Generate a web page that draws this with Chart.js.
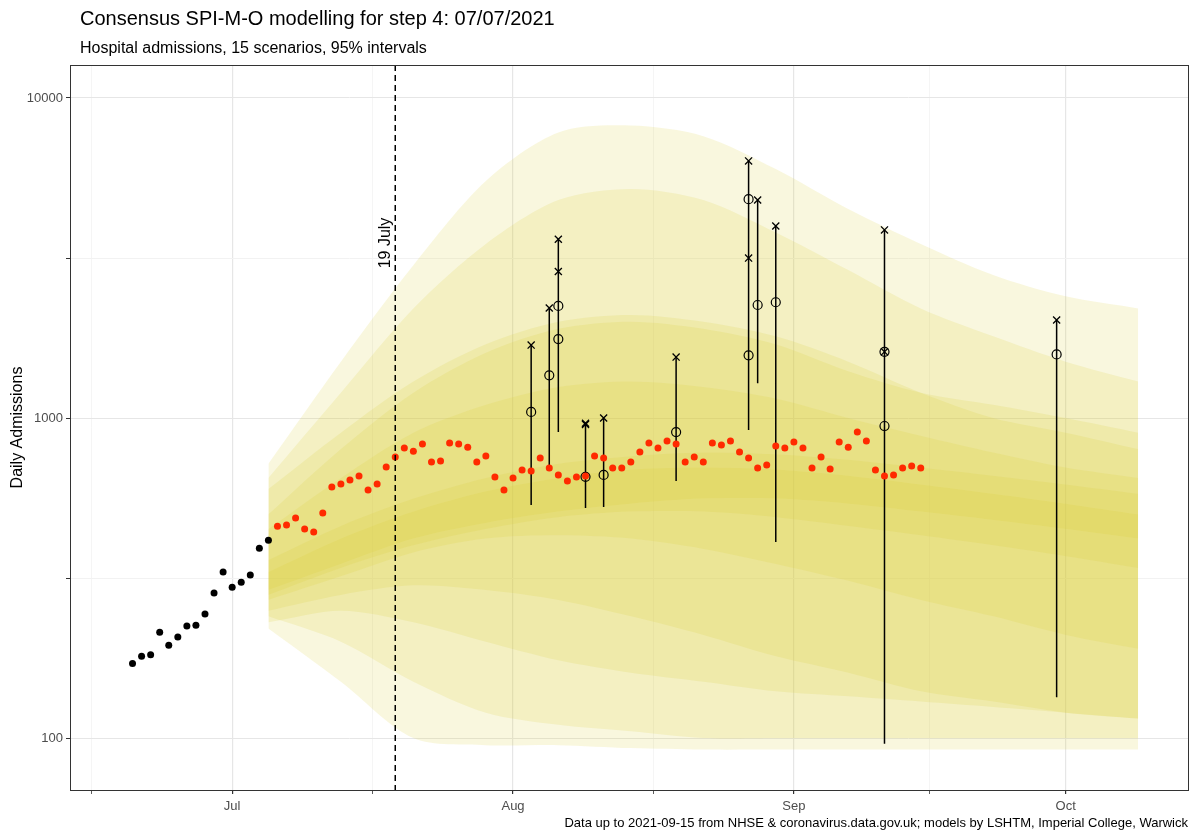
<!DOCTYPE html>
<html><head><meta charset="utf-8">
<script src="https://cdn.jsdelivr.net/npm/chart.js@4"></script>
<style>html,body{margin:0;background:#fff}#wrap{width:1200px;height:840px}</style>
</head><body><div id="wrap"><canvas id="c" width="1200" height="840"></canvas></div>
<script>
// x values are days since 1 July 2021
const monthTicks = [0, 31, 62, 92];
const monthLabels = ['Jul', 'Aug', 'Sep', 'Oct'];
const minorXTicks = [-15.5, 15.5, 46.5, 77];
const yMajor = [100, 1000, 10000];
const yMinor = [316.2, 3162];
const blackStart = -11;
const blackVals = [171,180,182,214,195,207,224,225,244,284,330,296,307,323,392,415];
const redStart = 5;
const redVals = [459,463,487,450,440,505,609,622,640,659,596,622,703,755,806,788,829,729,734,835,829,811,729,761,654,596,649,688,683,750,698,664,636,654,659,761,750,698,698,729,783,835,806,847,829,729,755,729,835,824,847,783,750,698,713,818,806,841,806,698,755,693,841,811,904,847,688,659,664,698,708,698];
// error bars: day, low, high, circles, crosses
const barDays = [33, 35, 36, 39, 41, 49, 57, 58, 60, 72, 91];
const barLow  = [535, 713, 904, 523, 527, 636, 917, 1285, 410, 96, 134];
const barHigh = [1690, 2207, 3620, 963, 1000, 1550, 6360, 4800, 3980, 3870, 2025];
const barCircles = [[1045],[1360],[1765,2240],[655],[664],[904],[1570,4830],[2255],[2300],[944,1610],[1580]];
const barCrosses = [[1690],[2207],[2870,3620],[963,955],[1000],[1550],[3160,6360],[4800],[3980],[1610,3870],[2025]];
// scenario bands
const bandDays = [4,12,20,28,36,44,52,60,68,76,84,92,100];
const bandLow = [
 [220,150,100,95,95,93,92,92,92,92,92,92,92],
 [240,200,150,120,110,105,100,100,100,100,100,100,100],
 [230,250,230,200,175,160,150,140,135,130,125,120,115],
 [250,280,300,290,270,240,210,180,160,140,130,120,115],
 [270,320,380,420,430,420,390,350,310,270,240,210,190],
 [280,340,400,450,490,510,510,490,460,430,400,370,340],
 [290,350,420,470,510,540,560,560,540,510,480,450,420]
];
const bandHigh = [
 [720,1500,3000,5500,7800,8200,7600,6000,4500,3500,2800,2400,2200],
 [650,1200,2200,3500,4800,5200,4800,3800,2900,2200,1800,1500,1300],
 [500,800,1200,1600,1900,2000,1900,1700,1400,1200,1100,1000,900],
 [600,900,1300,1700,2000,2100,2000,1800,1500,1200,1000,900,800],
 [450,650,900,1100,1250,1300,1250,1150,1000,880,780,700,650],
 [330,420,510,590,650,690,700,690,660,620,580,540,500],
 [360,460,560,650,720,760,780,770,740,700,660,620,580]
];
const vlineDay = 18;

const datasets = [];
bandLow.forEach((lo, i) => {
  datasets.push({type:'line', data: bandDays.map((d,k)=>({x:d,y:lo[k]})), borderWidth:0, pointRadius:0, fill:false, order:20, tension:0.3});
  datasets.push({type:'line', data: bandDays.map((d,k)=>({x:d,y:bandHigh[i][k]})), borderWidth:0, pointRadius:0, fill:'-1', backgroundColor:'rgba(215,208,50,0.16)', order:20, tension:0.3});
});
const eb = [];
barDays.forEach((d,i)=>{ eb.push({x:d,y:barLow[i]},{x:d,y:barHigh[i]},{x:d,y:null}); });
datasets.push({type:'line', data:eb, borderColor:'#000', borderWidth:1.5, pointRadius:0, spanGaps:false, order:2});
const circ=[], cross=[];
barDays.forEach((d,i)=>{ barCircles[i].forEach(v=>circ.push({x:d,y:v})); barCrosses[i].forEach(v=>cross.push({x:d,y:v})); });
datasets.push({type:'scatter', data:circ, pointStyle:'circle', pointRadius:4.5, borderColor:'#000', backgroundColor:'rgba(0,0,0,0)', borderWidth:1.2, order:1});
datasets.push({type:'scatter', data:cross, pointStyle:'crossRot', pointRadius:5, borderColor:'#000', borderWidth:1.3, order:1});
datasets.push({type:'scatter', data:blackVals.map((v,i)=>({x:blackStart+i,y:v})), pointRadius:3.5, backgroundColor:'#000', borderWidth:0, order:0});
datasets.push({type:'scatter', data:redVals.map((v,i)=>({x:redStart+i,y:v})), pointRadius:3.5, backgroundColor:'#ff2a00', borderWidth:0, order:0});

const deco = {
  id:'deco',
  beforeDraw(c){ const ctx=c.ctx; ctx.save(); ctx.fillStyle='#fff'; ctx.fillRect(0,0,c.width,c.height); ctx.restore(); },
  afterDatasetsDraw(c){
    const ctx=c.ctx, a=c.chartArea, x=c.scales.x.getPixelForValue(vlineDay);
    ctx.save();
    ctx.strokeStyle='#000'; ctx.lineWidth=1.5; ctx.setLineDash([6,4]);
    ctx.beginPath(); ctx.moveTo(x,a.top); ctx.lineTo(x,a.bottom); ctx.stroke();
    ctx.setLineDash([]);
    ctx.translate(x-10, 243); ctx.rotate(-Math.PI/2);
    ctx.fillStyle='#000'; ctx.font='16px "Liberation Sans", Arial'; ctx.textAlign='center'; ctx.textBaseline='middle';
    ctx.fillText('19 July',0,0);
    ctx.restore();
    ctx.save(); ctx.strokeStyle='#333'; ctx.lineWidth=1; ctx.strokeRect(a.left+0.5,a.top+0.5,a.right-a.left,a.bottom-a.top); ctx.restore();
  },
  afterDraw(c){
    const ctx=c.ctx; ctx.save(); ctx.fillStyle='#000'; ctx.textBaseline='alphabetic';
    ctx.font='20px "Liberation Sans", Arial'; ctx.fillText('Consensus SPI-M-O modelling for step 4: 07/07/2021',80,25);
    ctx.font='16px "Liberation Sans", Arial'; ctx.fillText('Hospital admissions, 15 scenarios, 95% intervals',80,53);
    ctx.font='13px "Liberation Sans", Arial'; ctx.textAlign='right';
    ctx.fillText('Data up to 2021-09-15 from NHSE & coronavirus.data.gov.uk; models by LSHTM, Imperial College, Warwick',1188,827);
    ctx.restore();
  }
};

new Chart(document.getElementById('c'), {
  data:{datasets},
  options:{
    responsive:false, animation:false, devicePixelRatio:1,
    layout:{padding:{top:65,right:12,left:4,bottom:0}},
    plugins:{legend:{display:false}, tooltip:{enabled:false}},
    scales:{
      x:{type:'linear', min:-17.9, max:105.5,
        afterBuildTicks(s){ s.ticks=[...minorXTicks,...monthTicks].sort((a,b)=>a-b).map(v=>({value:v})); },
        afterFit(s){ s.height=50; },
        ticks:{autoSkip:false, maxRotation:0, color:'#4d4d4d', padding:5, font:{family:'"Liberation Sans", Arial', size:13},
          callback(v){ const i=monthTicks.indexOf(v); return i>=0?monthLabels[i]:''; }},
        grid:{color(ctx){ return monthTicks.includes(ctx.tick&&ctx.tick.value)?'#e6e6e6':'#f2f2f2'; }, lineWidth(ctx){return monthTicks.includes(ctx.tick&&ctx.tick.value)?1.2:0.8;}, tickLength:4, tickColor:'#333', drawTicks:true},
        border:{display:false}
      },
      y:{type:'logarithmic', min:68.8, max:12680,
        afterBuildTicks(s){ s.ticks=[...yMajor,...yMinor].sort((a,b)=>a-b).map(v=>({value:v})); },
        afterFit(s){ s.width=66; },
        title:{display:true, text:'Daily Admissions', color:'#000', font:{family:'"Liberation Sans", Arial', size:16}, padding:{bottom:2}},
        ticks:{autoSkip:false, color:'#4d4d4d', font:{family:'"Liberation Sans", Arial', size:13},
          callback(v){ return yMajor.includes(v)?String(v):''; }},
        grid:{color(ctx){ return yMajor.includes(ctx.tick&&ctx.tick.value)?'#e6e6e6':'#f2f2f2'; }, tickLength:4, tickColor:'#333'},
        border:{display:false}
      }
    }
  },
  plugins:[deco]
});
</script></body></html>
